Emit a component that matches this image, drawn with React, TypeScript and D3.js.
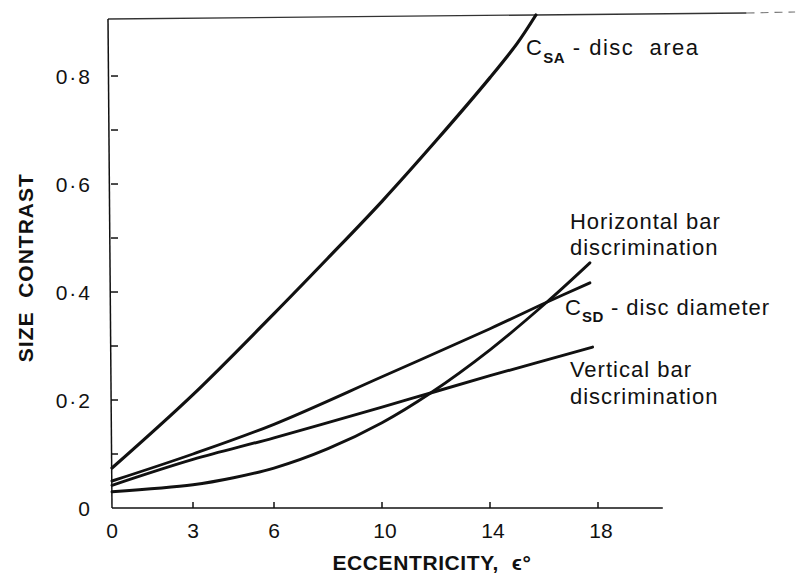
import React from "react";
import * as d3 from "d3";

// ---- data ----
const csaX = [0, 3, 6, 8, 10, 12, 14, 15, 15.7];
const csaY = [0.074, 0.21, 0.36, 0.463, 0.568, 0.68, 0.797, 0.86, 0.913];

const hbarX = [0, 3, 4.5, 6, 8, 10, 11.8, 14, 16.1, 17.7];
const hbarY = [0.03, 0.043, 0.056, 0.074, 0.11, 0.158, 0.213, 0.293, 0.381, 0.454];

const csdX = [0, 3, 6, 10, 14, 16.1, 17.7];
const csdY = [0.05, 0.1, 0.155, 0.243, 0.332, 0.381, 0.417];

const vbarX = [0, 3, 6, 10, 11.8, 14, 17.8];
const vbarY = [0.042, 0.09, 0.13, 0.187, 0.213, 0.245, 0.298];

const xTicks = [0, 3, 6, 10, 14, 18];
const xTickLabels = ["0", "3", "6", "10", "14", "18"];
const yMajorTicks = [0, 0.2, 0.4, 0.6, 0.8];
const yMajorLabels = ["0", "0·2", "0·4", "0·6", "0·8"];
const yMinorTicks = [0.1, 0.3, 0.5, 0.7];

const xTitle = "ECCENTRICITY,  ϵ°";
const yTitle = "SIZE  CONTRAST";

const W = 800;
const H = 579;
const FONT = "'Liberation Sans', Arial, Helvetica, sans-serif";

export default function App() {
  const x = d3.scaleLinear().domain([0, 20.4]).range([112, 112 + 20.4 * 27]);
  const y = d3.scaleLinear().domain([0, 0.913]).range([508, 15]);

  const line = d3
    .line<[number, number]>()
    .x((d) => x(d[0]))
    .y((d) => y(d[1]))
    .curve(d3.curveCatmullRom.alpha(0.5));

  const zip = (xs: number[], ys: number[]) =>
    xs.map((v, i) => [v, ys[i]] as [number, number]);

  const series = [
    zip(csaX, csaY),
    zip(hbarX, hbarY),
    zip(csdX, csdY),
    zip(vbarX, vbarY),
  ];

  const x0 = x(0);
  const yTop = y(0.913);
  const y0 = y(0);
  const tickLen = 6;
  const ink = "#111";

  return (
    <svg
      width={W}
      height={H}
      style={{ position: "absolute", left: 0, top: 0, background: "#fff" }}
      fontFamily={FONT}
    >
      <rect x={0} y={0} width={W} height={H} fill="#fff" />
      {/* frame top */}
      <line x1={x0 - 4} y1={yTop + 4} x2={x(23.5)} y2={yTop - 2} stroke="#333" strokeWidth={1.3} />
      <line
        x1={x(23.5)}
        y1={yTop - 2}
        x2={x(25.3)}
        y2={yTop - 3}
        stroke="#777"
        strokeWidth={1.1}
        strokeDasharray="8 6"
      />
      {/* y axis */}
      <line x1={x0 - 4} y1={yTop + 4} x2={x0} y2={y0} stroke={ink} strokeWidth={1.5} />
      {/* x axis */}
      <line x1={x0} y1={y0} x2={x(20.4)} y2={y0} stroke={ink} strokeWidth={1.5} />

      {yMajorTicks.map((t, i) => (
        <g key={"ym" + i}>
          {t > 0 && (
            <line x1={x0 - 1} x2={x0 + tickLen} y1={y(t)} y2={y(t)} stroke={ink} strokeWidth={1.5} />
          )}
          <text
            x={x0 - 20}
            y={y(t) + 8}
            textAnchor="end"
            fontSize={21}
            letterSpacing={2}
            fill={ink}
          >
            {yMajorLabels[i]}
          </text>
        </g>
      ))}
      {yMinorTicks.map((t, i) => (
        <line key={"yn" + i} x1={x0 - 1} x2={x0 + tickLen} y1={y(t)} y2={y(t)} stroke={ink} strokeWidth={1.5} />
      ))}

      {xTicks.map((t, i) => (
        <g key={"xt" + i}>
          {t > 0 && (
            <line x1={x(t)} x2={x(t)} y1={y0} y2={y0 - tickLen} stroke={ink} strokeWidth={1.5} />
          )}
          <text x={x(t) + (t >= 10 ? 3 : 0)} y={y0 + 30} textAnchor="middle" fontSize={21} fill={ink}>
            {xTickLabels[i]}
          </text>
        </g>
      ))}

      {/* curves */}
      {series.map((s, i) => (
        <path
          key={"s" + i}
          d={line(s) || ""}
          fill="none"
          stroke={ink}
          strokeWidth={i === 0 ? 3.2 : 2.9}
          strokeLinecap="round"
          strokeLinejoin="round"
        />
      ))}

      {/* axis titles */}
      <text
        x={x(11.85)}
        y={570}
        textAnchor="middle"
        fontSize={21}
        fontWeight="bold"
        letterSpacing={0.6}
        fill={ink}
        style={{ whiteSpace: "pre" }}
      >
        {xTitle}
      </text>
      <text
        transform={`translate(33, ${y(0.445)}) rotate(-90)`}
        textAnchor="middle"
        fontSize={21}
        fontWeight="bold"
        letterSpacing={1}
        fill={ink}
        style={{ whiteSpace: "pre" }}
      >
        {yTitle}
      </text>

      {/* series labels */}
      <text x={x(15.33)} y={y(0.839)} fontSize={22} letterSpacing={1.5} fill={ink} style={{ whiteSpace: "pre" }}>
        <tspan>C</tspan>
        <tspan fontSize={15} fontWeight="bold" dy={8} letterSpacing={0.5}>SA</tspan>
        <tspan dy={-8}>{" - disc  area"}</tspan>
      </text>

      <text x={x(16.96)} y={y(0.517)} fontSize={22} letterSpacing={1} fill={ink}>
        Horizontal bar
      </text>
      <text x={x(16.96)} y={y(0.517) + 26} fontSize={22} letterSpacing={1} fill={ink}>
        discrimination
      </text>

      <text x={x(16.78)} y={y(0.357)} fontSize={22} letterSpacing={1} fill={ink} style={{ whiteSpace: "pre" }}>
        <tspan>C</tspan>
        <tspan fontSize={15} fontWeight="bold" dy={7} letterSpacing={0.5}>SD</tspan>
        <tspan dy={-7}>{" - disc diameter"}</tspan>
      </text>

      <text x={x(16.96)} y={y(0.243)} fontSize={22} letterSpacing={1} fill={ink}>
        Vertical bar
      </text>
      <text x={x(16.96)} y={y(0.243) + 27} fontSize={22} letterSpacing={1} fill={ink}>
        discrimination
      </text>
    </svg>
  );
}
